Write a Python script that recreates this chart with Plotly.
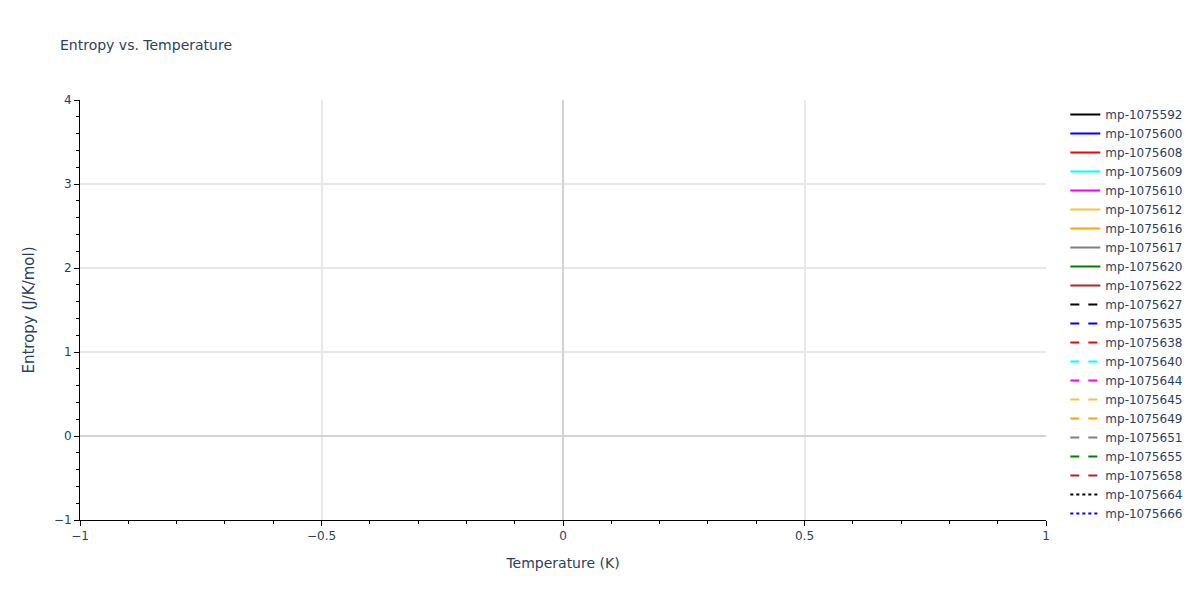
import plotly.graph_objects as go

# material ids shown in the legend; each series only has a point at T=0 with no entropy value
material_ids = ["mp-1075592", "mp-1075600", "mp-1075608", "mp-1075609", "mp-1075610",
                "mp-1075612", "mp-1075616", "mp-1075617", "mp-1075620", "mp-1075622",
                "mp-1075627", "mp-1075635", "mp-1075638", "mp-1075640", "mp-1075644",
                "mp-1075645", "mp-1075649", "mp-1075651", "mp-1075655", "mp-1075658",
                "mp-1075664", "mp-1075666"]
temperatures = [[0] for _ in material_ids]
entropies = [[None] for _ in material_ids]

colors = ["black", "blue", "red", "cyan", "magenta", "#efc640", "orange", "gray", "green", "brown"]
dashes = ["solid", "dash", "dot"]

fig = go.Figure()
for i, mid in enumerate(material_ids):
    fig.add_trace(go.Scatter(x=temperatures[i], y=entropies[i], mode="lines", name=mid,
                             line=dict(color=colors[i % len(colors)], dash=dashes[i // len(colors)], width=2)))

axis_style = dict(showline=True, linecolor="black", linewidth=1, ticks="outside", tickcolor="black",
                  showgrid=True, gridcolor="#e8e8e8", gridwidth=2,
                  zeroline=True, zerolinecolor="#d3d3d3", zerolinewidth=2,
                  minor=dict(ticks="outside", tickcolor="black", ticklen=3, showgrid=False))

# the page body adds an 8px offset, so the figure is made 8px smaller and margins trimmed
fig.update_layout(
    title=dict(text="Entropy vs. Temperature", x=52 / 1192, xanchor="left",
               y=1 - 37 / 592, yanchor="middle", font=dict(size=14)),
    font=dict(family="DejaVu Sans", size=12, color="#2a3f5f"),
    width=1192, height=592,
    margin=dict(l=72, r=80, t=92, b=80),
    plot_bgcolor="white", paper_bgcolor="white",
    showlegend=True,
    legend=dict(maxheight=560),
    xaxis=dict(title=dict(text="Temperature (K)", font=dict(size=14)), range=[-1, 1], dtick=0.5, **axis_style),
    yaxis=dict(title=dict(text="Entropy (J/K/mol)", font=dict(size=15)), range=[-1, 4], dtick=1, **axis_style),
)

fig.write_html("out.html")
